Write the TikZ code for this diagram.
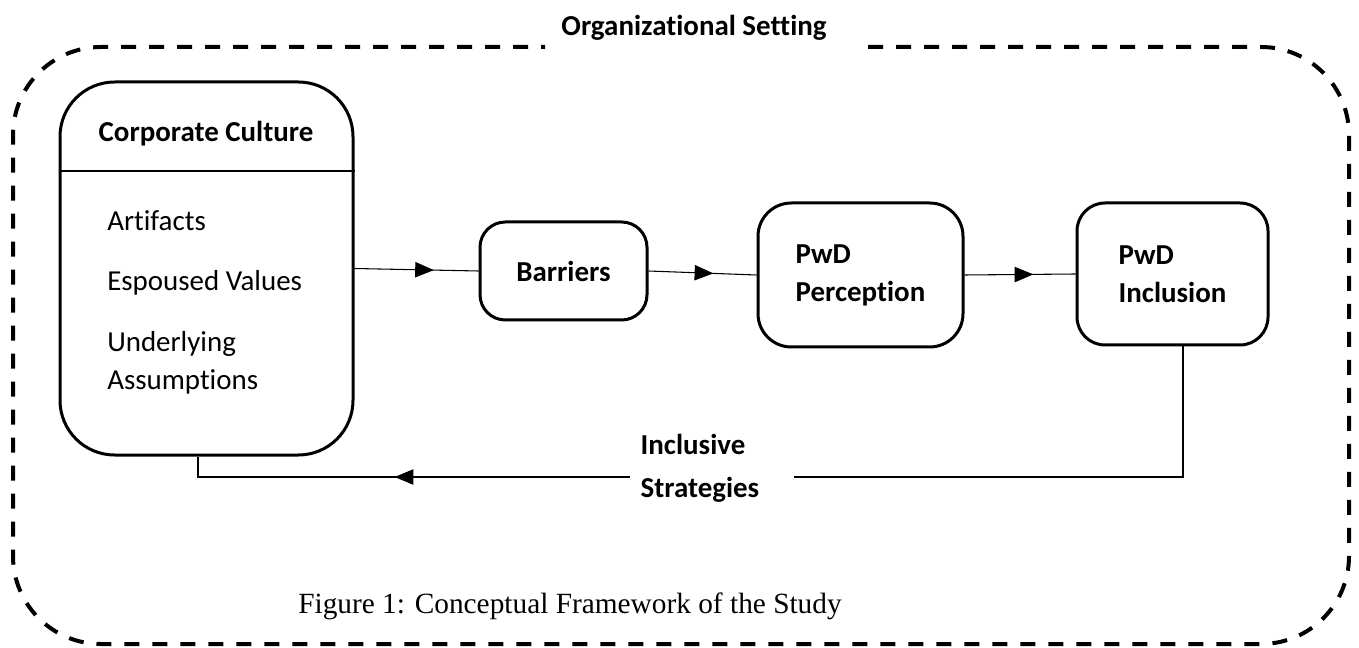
\documentclass[tikz,border=0pt]{standalone}
\usepackage{fontspec}
\setmainfont{Carlito}[Ligatures=NoCommon]
\newfontfamily\capfont{Liberation Serif}
\usetikzlibrary{arrows.meta,decorations.markings}

% one pixel of the layout grid
\newcommand{\pxu}{0.75pt}

\begin{document}
\begin{tikzpicture}[x=0.75pt, y=-0.75pt,
    font=\fontsize{21.7}{28.5}\selectfont,
    box/.style={draw, line width=2.25pt, rounded corners=#1, inner sep=0pt, align=left},
    link/.style={line width=0.8pt},
    midarrow/.style={postaction={decorate}, decoration={markings,
        mark=at position #1 with {\arrow{Triangle[length=14pt,width=11.5pt]}}}}]

    \useasboundingbox (0,0) rectangle (1359,648);

    % outer frame with a gap for the title
    \node[font=\bfseries\fontsize{21.7}{28.5}\selectfont] (setting) at (694,28) {Organizational Setting};
    \draw[line width=3pt, dash pattern=on 11.25pt off 9.75pt, rounded corners=66pt]
        (868,47) -- (1349,47) -- (1349,644) -- (13,644) -- (13,47) -- (545,47);

    % corporate culture box
    \node[box=41pt, minimum width=293*\pxu, minimum height=373*\pxu] (cc) at (206.5,268.5) {};
    \node[anchor=base, font=\bfseries\fontsize{21.7}{28.5}\selectfont] (ccname) at (206,142) {Corporate Culture};
    \draw[link] (cc.west |- 0,171) -- (cc.east |- 0,171);
    \node[anchor=base west, inner sep=0pt] (art) at (107,231) {Artifacts};
    \node[anchor=base west, inner sep=0pt] (esp) at (107,291) {Espoused Values};
    \node[anchor=base west, inner sep=0pt, align=left] (und) at (107,389) {Underlying\\Assumptions};

    % the three stages
    \node[box=19pt, minimum width=167*\pxu, minimum height=98*\pxu,
        font=\bfseries\fontsize{21.7}{28.5}\selectfont] (barr) at (563.5,271) {Barriers};
    \node[box=25pt, minimum width=205*\pxu, minimum height=144*\pxu,
        font=\bfseries\fontsize{21.7}{28.5}\selectfont] (perc) at (860.5,275) {PwD\\Perception};
    \node[box=21pt, minimum width=191*\pxu, minimum height=142*\pxu,
        font=\bfseries\fontsize{21.7}{28.5}\selectfont] (incl) at (1172.5,274) {PwD\\Inclusion};

    % forward links
    \draw[link, midarrow=0.64] (cc.east) -- (barr.west);
    \draw[link, midarrow=0.6] (barr.east) -- (perc.west);
    \draw[link, midarrow=0.62] (perc.east) -- (incl.west);

    % feedback loop
    \node[anchor=west, align=left, font=\bfseries\fontsize{21.7}{28.5}\selectfont]
        (strat) at (636,468) {Inclusive\\[4pt]Strategies};
    \coordinate (fbr) at (1183,477);
    \coordinate (fbm) at (794,477);
    \coordinate (fbl) at (198,477);
    \draw[link] (fbr |- incl.south) -- (fbr) -- (fbm);
    \draw[link, midarrow=0.52] (630,477) -- (fbl) -- (fbl |- cc.south);

    % caption
    \node[font=\capfont\fontsize{22}{26}\selectfont] (caption) at (570,606)
        {Figure 1: Conceptual Framework of the Study};

\end{tikzpicture}
\end{document}
